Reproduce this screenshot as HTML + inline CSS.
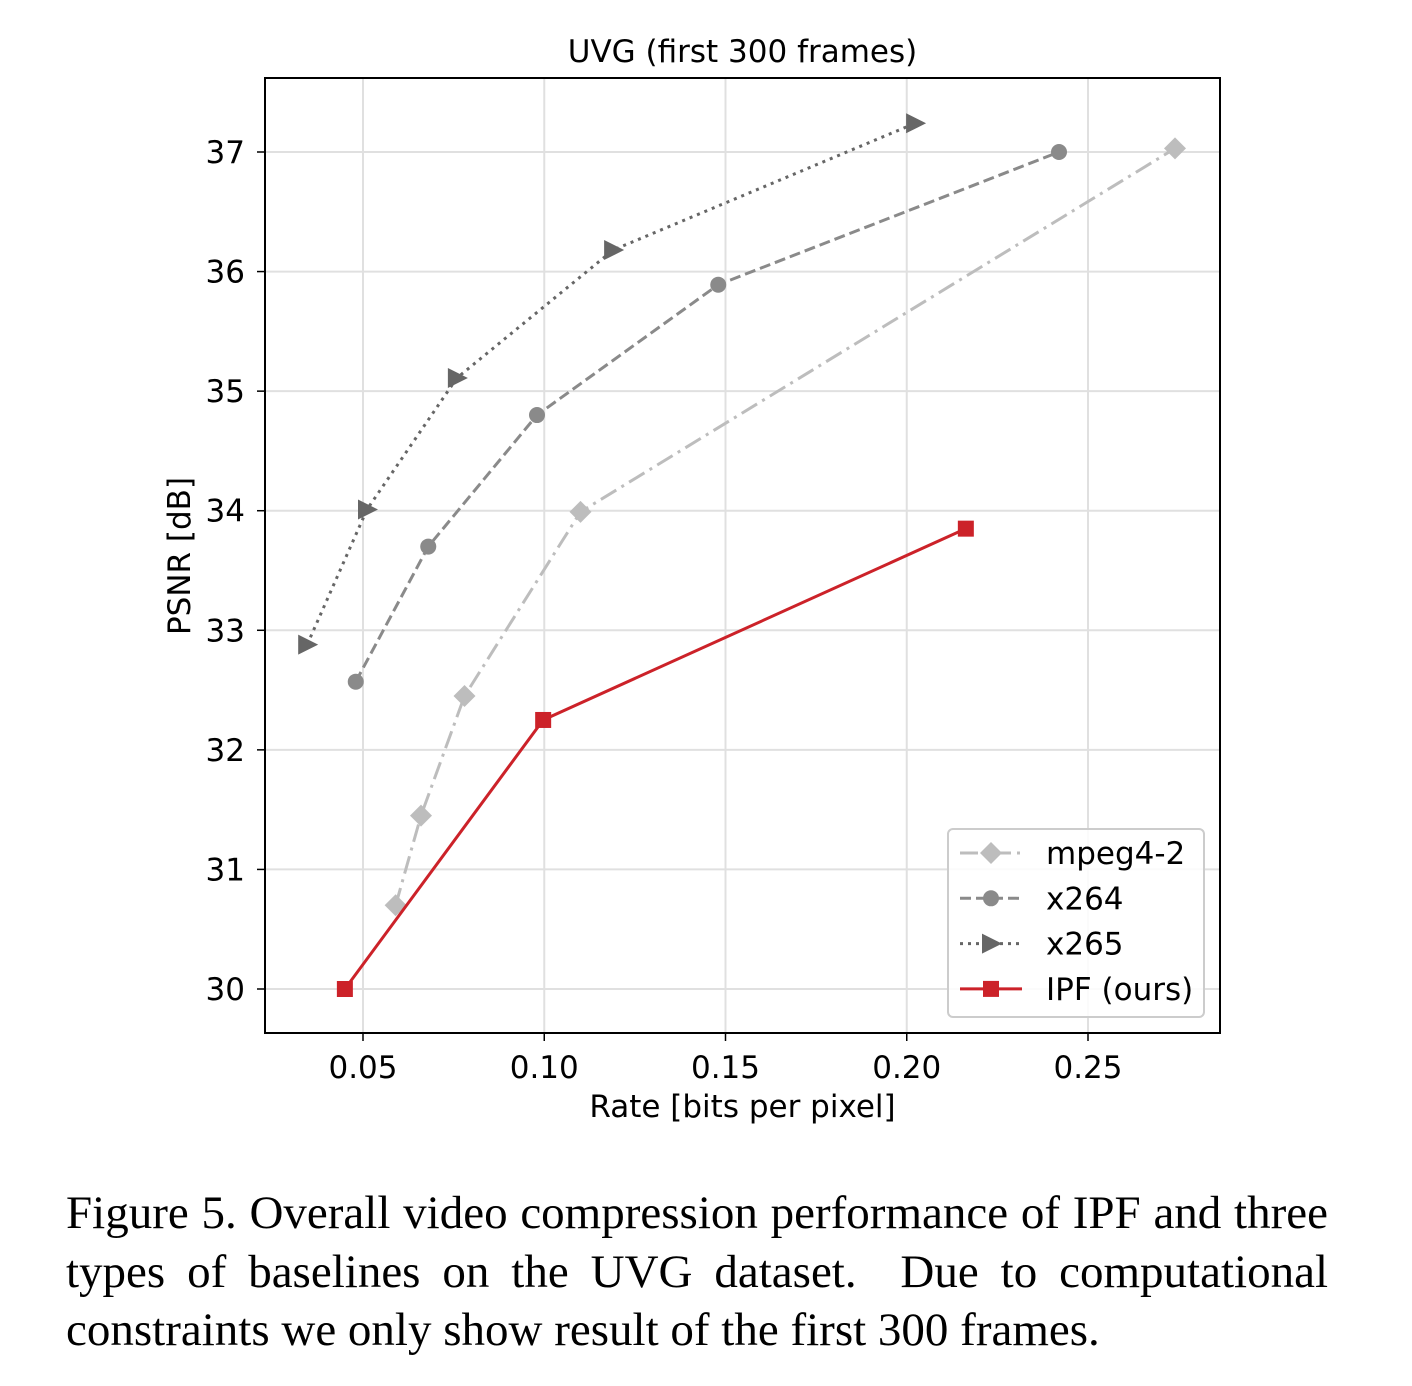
<!DOCTYPE html>
<html><head><meta charset="utf-8"><style>
body{margin:0;background:#fff;width:1412px;height:1386px;overflow:hidden;position:relative}
svg text{font-family:"DejaVu Sans","Liberation Sans",sans-serif}
#cap{position:absolute;left:66px;top:1184px;width:1262px;font-family:"Liberation Serif",serif;font-size:47px;line-height:58.5px;color:#000}
#cap div{text-align:justify;text-align-last:justify;white-space:nowrap}
#cap div.last{text-align-last:left}
</style></head><body>
<svg id="chart" width="1412" height="1160" style="position:absolute;left:0;top:0"></svg>
<div id="cap"><div>Figure 5. Overall video compression performance of IPF and three</div><div>types of baselines on the UVG dataset.&nbsp; Due to computational</div><div class="last">constraints we only show result of the first 300 frames.</div></div>
<script>
const xTicks=[0.05,0.10,0.15,0.20,0.25];
const yTicks=[30,31,32,33,34,35,36,37];
const mpegX=[0.059,0.066,0.078,0.110,0.274];
const mpegY=[30.70,31.45,32.45,33.99,37.03];
const x264X=[0.048,0.068,0.098,0.148,0.242];
const x264Y=[32.57,33.70,34.80,35.89,37.00];
const x265X=[0.0346,0.0511,0.0759,0.119,0.2023];
const x265Y=[32.88,34.01,35.11,36.18,37.24];
const ipfX=[0.045,0.0997,0.2163];
const ipfY=[30.00,32.25,33.85];
const L=265,R=1220,T=78,B=1033;
const xMin=0.05-98/3625,xMax=0.05+857/3625,yMin=30-44/119.57,yMax=37+74/119.57;
const sx=v=>L+(v-xMin)/(xMax-xMin)*(R-L);
const sy=v=>B-(v-yMin)/(yMax-yMin)*(B-T);
const svg=document.getElementById('chart');
const NS='http://www.w3.org/2000/svg';
function el(t,a,txt){const e=document.createElementNS(NS,t);for(const k in a)e.setAttribute(k,a[k]);if(txt!==undefined)e.textContent=txt;svg.appendChild(e);return e;}
xTicks.forEach(v=>{const x=sx(v);
const g=el('line',{x1:x,x2:x,y1:T,y2:B,stroke:'#e0e0e0','stroke-width':2});

el('line',{x1:x,x2:x,y1:B,y2:B+8,stroke:'#000','stroke-width':1.5});
const t=el('text',{x:x,y:B+45,'text-anchor':'middle','font-size':31},v.toFixed(2));
});
yTicks.forEach(v=>{const y=sy(v);
const g=el('line',{x1:L,x2:R,y1:y,y2:y,stroke:'#e0e0e0','stroke-width':2});

el('line',{x1:L-8,x2:L,y1:y,y2:y,stroke:'#000','stroke-width':1.5});
const t=el('text',{x:L-20,y:y+11,'text-anchor':'end','font-size':31},String(v));
});
const fr=el('rect',{x:L,y:T,width:R-L,height:B-T,fill:'none',stroke:'#000','stroke-width':2});

const tt=el('text',{x:(L+R)/2,y:62,'text-anchor':'middle','font-size':31},'UVG (first 300 frames)');

const xl=el('text',{x:(L+R)/2,y:1117,'text-anchor':'middle','font-size':31},'Rate [bits per pixel]');

const yl=el('text',{x:0,y:0,'text-anchor':'middle','font-size':31,transform:'translate(190,556) rotate(-90)'},'PSNR [dB]');

function marker(kind,x,y,c){
 if(kind==='d')return el('polygon',{points:`${x},${y-11} ${x+11},${y} ${x},${y+11} ${x-11},${y}`,fill:c});
 if(kind==='o')return el('circle',{cx:x,cy:y,r:8,fill:c});
 if(kind==='t')return el('polygon',{points:`${x-9},${y-10} ${x+11},${y} ${x-9},${y+10}`,fill:c});
 return el('rect',{x:x-8,y:y-8,width:16,height:16,fill:c});}
const series=[
 {n:'mpeg4-2',xs:mpegX,ys:mpegY,c:'#bdbdbd',d:'18,6,3,6',m:'d'},
 {n:'x264',xs:x264X,ys:x264Y,c:'#8a8a8a',d:'11,5',m:'o'},
 {n:'x265',xs:x265X,ys:x265Y,c:'#666666',d:'3,5',m:'t'},
 {n:'ipf',xs:ipfX,ys:ipfY,c:'#cc2229',d:'',m:'s'}];
series.forEach(s=>{
 const p=el('polyline',{points:s.xs.map((v,i)=>sx(v)+','+sy(s.ys[i])).join(' '),fill:'none',stroke:s.c,'stroke-width':3,'stroke-dasharray':s.d});
 
 s.xs.forEach((v,i)=>{const m=marker(s.m,sx(v),sy(s.ys[i]),s.c);
 });});
const lb=el('rect',{x:948,y:829,width:256,height:188,rx:5,fill:'#fff','fill-opacity':0.85,stroke:'#ccc','stroke-width':2});

const labels=['mpeg4-2','x264','x265','IPF (ours)'];
series.forEach((s,i)=>{const y=853+i*45.3;
 el('line',{x1:960,x2:1022,y1:y,y2:y,stroke:s.c,'stroke-width':3,'stroke-dasharray':s.d});
 marker(s.m,991,y,s.c);
 const t=el('text',{x:1046,y:y+11,'font-size':31},labels[i]);
 });
</script>
</body></html>
